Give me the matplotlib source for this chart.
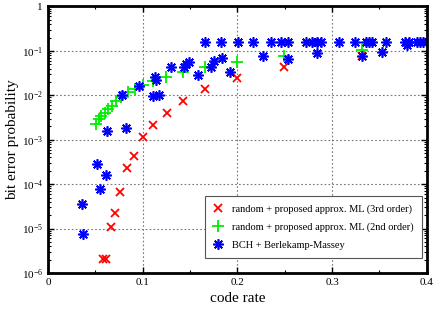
import numpy as np
import matplotlib
matplotlib.use("Agg")
import matplotlib.pyplot as plt
from matplotlib.ticker import FixedLocator, LogLocator, NullFormatter

plt.rcParams['font.family'] = ['Liberation Serif', 'DejaVu Serif']
plt.rcParams['mathtext.fontset'] = 'custom'
plt.rcParams['mathtext.rm'] = 'Liberation Serif'
plt.rcParams['mathtext.it'] = 'Liberation Serif:italic'

# random + proposed approx. ML (3rd order)
rate_3rd = [0.0582, 0.0618, 0.0663, 0.0713, 0.0765, 0.0832, 0.0905, 0.100, 0.1105,
            0.1253, 0.1424, 0.1658, 0.1993, 0.2495, 0.3319]
ber_3rd = [2.1e-6, 2.1e-6, 1.11e-5, 2.24e-5, 6.6e-5, 2.35e-4, 4.2e-4, 1.16e-3, 2.1e-3,
           3.9e-3, 7.4e-3, 0.0139, 0.0245, 0.0437, 0.0757]

# random + proposed approx. ML (2nd order)
rate_2nd = [0.0502, 0.0534, 0.0565, 0.0600, 0.0635, 0.0681, 0.0723, 0.0776, 0.0845,
            0.0916, 0.100, 0.1105, 0.125, 0.1424, 0.1656, 0.1993, 0.2495, 0.3319]
ber_2nd = [2.32e-3, 2.86e-3, 3.39e-3, 4.04e-3, 4.97e-3, 5.9e-3, 7.4e-3, 9.4e-3, 0.0117,
           0.014, 0.017, 0.0207, 0.0265, 0.0334, 0.0444, 0.056, 0.0756, 0.103]

# BCH + Berlekamp-Massey
rate_bch = [0.0355, 0.0372, 0.0513, 0.0547, 0.0611, 0.0624, 0.0821, 0.0784, 0.0958,
            0.1108, 0.1174, 0.1126, 0.1137, 0.1302, 0.1437, 0.1458, 0.1484, 0.1582,
            0.1723, 0.1758, 0.1839, 0.1923, 0.2274, 0.2529, 0.2845, 0.3319, 0.3529,
            0.3793,
            0.1663, 0.1828, 0.2003, 0.2161, 0.2358, 0.2460, 0.2532, 0.2721, 0.2787,
            0.2839, 0.2881, 0.3074, 0.3242, 0.3358, 0.3389, 0.3421, 0.3568, 0.3768,
            0.3811, 0.3895, 0.3926, 0.3958]
ber_bch = [3.65e-5, 7.45e-6, 2.79e-4, 7.64e-5, 1.6e-4, 1.54e-3, 1.86e-3, 1.0e-2, 0.0166,
           9.65e-3, 0.0104, 0.0265, 0.0221, 0.0433, 0.0433, 0.0505, 0.0575, 0.0281,
           0.0437, 0.059, 0.0707, 0.033, 0.0756, 0.0654, 0.0902, 0.0756, 0.094,
           0.1386] + [0.156] * 22

ytick_vals = [1e-6, 1e-5, 1e-4, 1e-3, 1e-2, 1e-1, 1]
ytick_labels = ['$10^{-6}$', '$10^{-5}$', '$10^{-4}$', '$10^{-3}$', '$10^{-2}$', '$10^{-1}$', '1']
xtick_vals = [0, 0.1, 0.2, 0.3, 0.4]

fig = plt.figure(figsize=(4.36, 3.09), dpi=100)
ax = fig.add_axes([0.110, 0.1165, 0.869, 0.8625])

ax.plot(rate_3rd, ber_3rd, linestyle='none', marker='x', color='red', ms=6, mew=1.3,
        label='random + proposed approx. ML (3rd order)')
ax.plot(rate_2nd, ber_2nd, linestyle='none', marker='+', color='#00ee00', ms=8, mew=1.3,
        label='random + proposed approx. ML (2nd order)')
ax.plot(rate_bch, ber_bch, linestyle='none', marker=(8, 2, 0), color='blue', ms=7.5, mew=1.2,
        label='BCH + Berlekamp-Massey')

ax.set_yscale('log')
ax.set_xlim(0, 0.4)
ax.set_ylim(1e-6, 1)
ax.set_yticks(ytick_vals)
ax.set_yticklabels(ytick_labels)
ax.yaxis.set_minor_locator(LogLocator(base=10, subs=np.arange(2, 10)))
ax.yaxis.set_minor_formatter(NullFormatter())
ax.set_xticks(xtick_vals)
ax.set_xticklabels(['0', '0.1', '0.2', '0.3', '0.4'])
ax.xaxis.set_minor_locator(FixedLocator([0.05, 0.15, 0.25, 0.35]))

ax.tick_params(which='both', direction='in', top=True, right=True, labelsize=8, color='black')
ax.tick_params(which='major', length=4, width=1)
ax.tick_params(which='minor', length=2.5, width=0.8)
for s in ax.spines.values():
    s.set_linewidth(2)

ax.grid(True, which='major', linestyle=(0, (1.5, 2)), color='#777777', linewidth=0.8)
ax.set_axisbelow(True)

ax.set_xlabel('code rate', fontsize=11, labelpad=4)
ax.set_ylabel('bit error probability', fontsize=11, labelpad=2)

leg = ax.legend(loc='lower right', bbox_to_anchor=(0.987, 0.056), fontsize=7.5,
                fancybox=False, framealpha=1, edgecolor='#555555', handlelength=1,
                handletextpad=0.8, borderpad=0.8, borderaxespad=0, labelspacing=0.8)
leg.get_frame().set_linewidth(0.8)

fig.savefig('out.png', dpi=100)
